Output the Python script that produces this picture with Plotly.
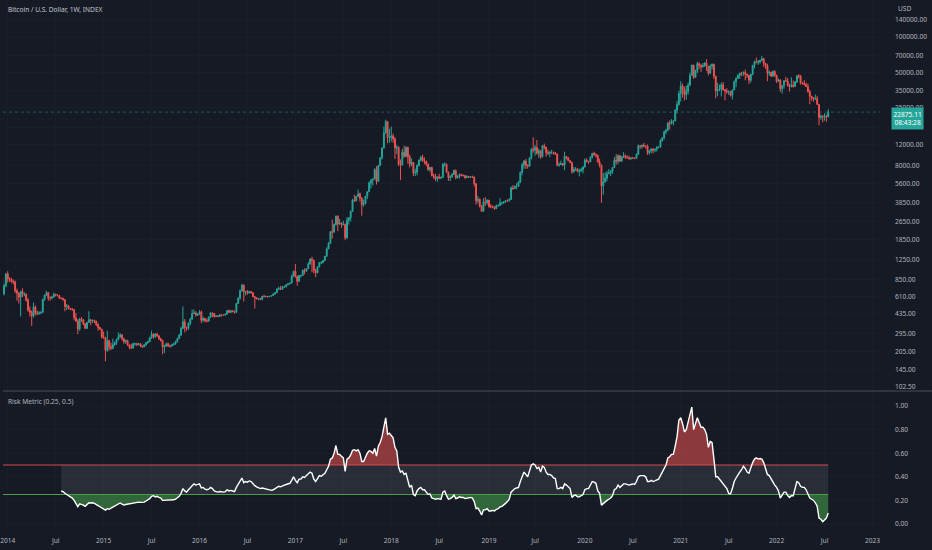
import math
import numpy as np
import pandas as pd
import plotly.graph_objects as go

# weekly BTC/USD bars, weeks starting 2013-12-16 (Monday); open of each week = close of the previous one
first_open = 880
close = [
    640, 750, 950,
    860, 850, 820, 815, 680, 650, 600, 670, 635, 640, 565, 465, 445, 415, 495, 440, 435, 440, 445, 575, 625, 655,
    590, 590, 600, 635, 630, 620, 590, 585, 570, 500, 505, 480, 475, 470, 400, 375, 320, 390, 385, 355, 325, 365,
    385, 375, 380, 375, 350, 330, 320,
    275, 270, 210, 255, 225, 220, 235, 245, 260, 275, 285, 265, 250, 255, 235, 225, 220, 240, 240, 235, 240, 230,
    225, 235, 245, 250, 270, 290, 275, 290, 280, 265, 255, 225, 230, 240, 230, 230, 235, 240, 250, 265, 285, 325,
    370, 330, 325, 360, 390, 435, 440, 420, 430,
    450, 380, 395, 378, 375, 405, 440, 435, 410, 415, 410, 425, 420, 420, 430, 460, 445, 460, 455, 445, 530, 590,
    680, 760, 665, 670, 650, 670, 655, 605, 590, 580, 585, 575, 610, 605, 610, 605, 610, 620, 640, 655, 700, 710,
    700, 730, 735, 765, 780, 790, 900, 1000,
    905, 820, 920, 920, 1020, 1000, 1050, 1150, 1270, 1230, 1020, 970, 1090, 1180, 1180, 1230, 1340, 1550, 1730,
    2180, 2150, 2510, 2950, 2530, 2580, 2500, 2510, 1930, 2730, 2860, 3240, 4050, 4000, 4350, 4580, 4200, 3700,
    3780, 4380, 4770, 5680, 6000, 6140, 7380, 5850, 8000, 9300, 11300, 15200, 19000, 13800, 13900,
    14300, 13500, 11300, 11400, 8200, 8100, 10400, 9600, 11400, 9500, 8200, 8500, 6900, 7000, 8000, 8900, 9400,
    8700, 8700, 8200, 7350, 7700, 6550, 6450, 6150, 6400, 6250, 6350, 8200, 8200, 7000, 6300, 6400, 6700, 7250,
    6300, 6500, 6700, 6600, 6550, 6300, 6450, 6350, 6400, 6350, 5600, 4000, 4100, 3600, 3250, 3900, 3850, 4050,
    3550, 3550, 3550, 3420, 3650, 3650, 3820, 3860, 3920, 4000, 3990, 4100, 5150, 5080, 5300, 5300, 5800, 7000,
    8100, 8750, 8000, 7900, 9300, 11000, 10800, 11400, 10200, 10700, 9500, 11800, 11500, 10300, 10150, 10400,
    10400, 10300, 10000, 8050, 8150, 8300, 8050, 9550, 9350, 8800, 8500, 7100, 7400, 7500, 7100, 7150, 7400, 7750,
    8900, 8700, 8600, 9400, 10150, 9900, 9700, 8550, 8050, 5350, 5800, 6250, 6800, 6900, 7150, 7700, 8900, 8700,
    9700, 8700, 9450, 9700, 9350, 9300, 9150, 9300, 9250, 9200, 9950, 11800, 11650, 11900, 11700, 11700, 10300,
    10650, 11100, 10800, 11050, 11400, 11500, 13100, 13800, 15500, 15950, 18400, 18200, 19100, 19250, 23850,
    26500, 33000,
    38200, 36000, 32300, 34300, 38900, 47200, 57500, 45300, 51000, 59500, 57400, 55800, 57100, 60000, 56200,
    49000, 56600, 58300, 46400, 34700, 35600, 35800, 39100, 35500, 34700, 34200, 34250, 31800, 35400, 41500,
    44400, 47100, 49300, 48800, 49900, 48200, 47300, 42800, 48200, 57400, 61600, 60900, 61300, 63300, 65500,
    59700, 57300, 49400, 50100, 46700, 50800, 47300,
    41900, 43100, 36300, 38500, 42400, 42200, 38400, 37700, 38800, 37800, 41300, 46800, 46400, 40400, 40400,
    39500, 37700, 34100, 31300, 30300, 29400, 29900, 26600, 20600, 21000, 20800, 21200, 20800, 22875.11,
]
high = [
    890, 780, 960,
    1000, 890, 880, 850, 830, 710, 660, 680, 715, 660, 640, 590, 500, 460, 540, 510, 460, 455, 455, 580, 630, 680,
    660, 610, 615, 655, 640, 630, 625, 595, 595, 580, 525, 515, 485, 485, 475, 440, 390, 400, 405, 390, 360, 370,
    455, 390, 385, 385, 360, 360, 335,
    320, 305, 275, 310, 260, 245, 265, 250, 265, 300, 295, 290, 270, 260, 260, 235, 240, 245, 245, 245, 245, 240,
    232, 237, 248, 255, 275, 310, 295, 295, 298, 285, 270, 260, 235, 245, 245, 235, 240, 245, 255, 270, 290, 335,
    500, 390, 335, 365, 400, 470, 470, 455, 435,
    465, 460, 410, 395, 395, 410, 445, 445, 440, 420, 420, 428, 425, 425, 435, 465, 470, 465, 460, 460, 535, 595,
    700, 780, 770, 680, 690, 680, 675, 660, 615, 600, 590, 590, 615, 630, 615, 610, 615, 625, 645, 660, 720, 740,
    750, 750, 750, 770, 785, 800, 935, 1010,
    1150, 910, 930, 930, 1030, 1060, 1060, 1200, 1290, 1330, 1260, 1050, 1100, 1200, 1220, 1250, 1350, 1600, 1770,
    2200, 2760, 2560, 2980, 3000, 2800, 2600, 2700, 2560, 2900, 2900, 3300, 4150, 4500, 4400, 4980, 4700, 4300,
    4100, 4400, 4800, 5850, 6100, 6200, 7600, 7880, 8100, 9400, 11400, 17200, 19700, 19100, 16500,
    17200, 15000, 14000, 12000, 11700, 9000, 11100, 11800, 11700, 11600, 9900, 9200, 8500, 7500, 8200, 9000, 9700,
    9900, 9400, 8800, 8300, 7800, 7800, 6800, 6800, 6450, 6800, 6400, 8400, 8500, 8300, 7100, 6600, 6900, 7400,
    7400, 6600, 6850, 6800, 6700, 6650, 6600, 6500, 6500, 6550, 6450, 5600, 4400, 4200, 3650, 4200, 4300, 4100,
    4050, 3750, 3650, 3550, 3700, 3700, 4200, 3900, 3950, 4050, 4100, 4200, 5300, 5450, 5400, 5650, 5850, 7100,
    8400, 8900, 9100, 8200, 9400, 11300, 13900, 12000, 13200, 11100, 10700, 11900, 12300, 11500, 10900, 10600,
    10900, 10450, 10300, 10100, 8500, 8800, 8400, 10500, 9650, 9400, 8900, 8600, 7800, 7750, 7550, 7500, 7650, 7900,
    9200, 9200, 8700, 9600, 10200, 10500, 10200, 9950, 9150, 8150, 6900, 7000, 7200, 7450, 7300, 7750, 9450, 10000,
    9950, 9850, 9600, 10400, 9950, 9750, 9700, 9350, 9450, 9300, 10150, 12100, 11900, 12100, 12450, 11800, 12100,
    10800, 11200, 11200, 11100, 11700, 11700, 13400, 14000, 15900, 16500, 18800, 19450, 19900, 19400, 24250,
    28400, 34800,
    41950, 40100, 37800, 38500, 40900, 49700, 58300, 58000, 52600, 61800, 60600, 58400, 60100, 61200, 64800,
    57000, 58400, 59600, 59500, 46600, 40800, 39300, 40900, 41300, 36000, 36600, 35100, 34600, 35400, 42600,
    45300, 48200, 49400, 50500, 51000, 52900, 48800, 47400, 48500, 57800, 62900, 67000, 63700, 64200, 69000,
    66300, 59900, 59200, 51900, 50500, 52000, 52100,
    47600, 44400, 43500, 38900, 42500, 45800, 44700, 40000, 45400, 42600, 42200, 47000, 48200, 47500, 41500,
    42900, 40800, 40000, 35500, 31300, 30600, 32300, 31500, 26800, 21900, 21500, 22400, 21800, 24200,
]
low = [
    520, 620, 730,
    800, 810, 790, 770, 650, 560, 530, 410, 600, 610, 550, 450, 410, 340, 400, 420, 420, 425, 430, 445, 560, 615,
    560, 560, 575, 600, 610, 610, 580, 575, 560, 455, 465, 470, 465, 460, 380, 370, 290, 310, 370, 345, 320, 320,
    360, 345, 360, 360, 340, 310, 315,
    265, 265, 170, 205, 210, 212, 215, 230, 235, 260, 270, 255, 240, 240, 230, 215, 218, 220, 230, 230, 235, 225,
    222, 225, 230, 240, 250, 265, 265, 270, 275, 258, 250, 195, 200, 225, 225, 222, 225, 232, 235, 245, 265, 280,
    320, 300, 310, 315, 345, 385, 430, 410, 415,
    425, 360, 370, 365, 365, 370, 400, 405, 400, 405, 405, 410, 410, 415, 418, 428, 440, 440, 445, 435, 440, 525,
    570, 670, 550, 620, 630, 645, 645, 600, 480, 575, 565, 565, 565, 600, 600, 595, 600, 605, 615, 630, 650, 690,
    690, 695, 725, 730, 760, 770, 790, 890,
    880, 750, 810, 880, 915, 940, 995, 1050, 1140, 980, 960, 890, 960, 1080, 1150, 1180, 1230, 1330, 1550, 1700,
    1900, 2150, 2450, 2200, 2500, 2350, 2470, 1840, 1890, 2500, 2660, 3200, 3900, 3950, 4300, 3950, 2980, 3550,
    3720, 4130, 4760, 5100, 5400, 6100, 5500, 5800, 7900, 9000, 11200, 15000, 12400, 12500,
    12800, 12500, 9100, 10000, 7900, 6000, 8000, 9300, 9400, 8300, 7700, 7900, 6500, 6500, 6600, 7800, 8700, 8600,
    8200, 7900, 7250, 7050, 6450, 6150, 5900, 5800, 6100, 6100, 6250, 7800, 6900, 5900, 5900, 6300, 6650, 6100,
    6200, 6200, 6450, 6450, 6150, 6250, 6300, 6300, 6300, 5300, 3700, 3800, 3500, 3200, 3250, 3600, 3700,
    3500, 3450, 3450, 3350, 3400, 3550, 3600, 3700, 3750, 3850, 3900, 3950, 4100, 4950, 5050, 5000, 5250, 5650,
    6600, 7500, 7500, 7500, 7800, 9000, 10300, 9700, 9900, 9300, 9100, 9400, 11000, 9500, 9850, 9400, 10000, 9900,
    9850, 7900, 7800, 8100, 7900, 7300, 9000, 8700, 8350, 6800, 6900, 7200, 7000, 6450, 7100, 6850,
    7700, 8500, 8250, 8600, 9150, 9700, 9350, 8500, 7700, 3850, 4500, 5700, 5850, 6750, 6500, 6800, 7650, 8150,
    8200, 8650, 8650, 9300, 9100, 9200, 8950, 8950, 9150, 9050, 9150, 9900, 11100, 11150, 11500, 11150, 9850, 9900,
    10200, 10150, 10400, 10550, 11200, 11400, 12800, 13300, 14800, 15800, 16200, 18000, 17600, 19000, 22300, 26000,
    28200, 30400, 28800, 29200, 32300, 38000, 47000, 44000, 44900, 49300, 53300, 50300, 54800, 55500, 51300,
    47100, 48800, 53000, 43900, 30000, 31200, 34500, 31100, 34800, 28800, 32700, 32100, 31100, 29300, 35200,
    37300, 43800, 43950, 46400, 46600, 42800, 44700, 39600, 40800, 47100, 54100, 59700, 58000, 59500, 62300,
    55600, 53600, 42000, 46700, 45500, 45600, 45700,
    40600, 41300, 34000, 32900, 36200, 41700, 37900, 34300, 37200, 37100, 37600, 40500, 44200, 39300, 39200,
    38600, 37600, 33700, 26700, 28700, 28000, 29300, 26600, 17600, 19700, 18700, 19300, 18900, 20700,
]

# risk metric, weekly, from the week of 2014-07-28 to the last bar
risk = [
    0.28, 0.275, 0.26, 0.25, 0.245, 0.235, 0.22, 0.20, 0.17, 0.147, 0.17, 0.166, 0.16, 0.15, 0.17, 0.18, 0.178,
    0.18, 0.175, 0.165, 0.155, 0.15,
    0.138, 0.13, 0.118, 0.13, 0.125, 0.135, 0.145, 0.15, 0.16, 0.17, 0.178, 0.168, 0.16, 0.165, 0.168, 0.17,
    0.178, 0.182, 0.185, 0.182, 0.185, 0.183, 0.186, 0.185, 0.195, 0.205, 0.215, 0.235, 0.24, 0.23, 0.235, 0.225,
    0.22, 0.20, 0.20, 0.205, 0.20, 0.20, 0.20, 0.205, 0.21, 0.22, 0.235, 0.26, 0.30, 0.28, 0.27, 0.29, 0.31, 0.33,
    0.34, 0.33, 0.335,
    0.34, 0.305, 0.31, 0.295, 0.29, 0.295, 0.31, 0.30, 0.28, 0.275, 0.27, 0.275, 0.27, 0.27, 0.275, 0.29, 0.28,
    0.285, 0.28, 0.275, 0.31, 0.34, 0.37, 0.39, 0.35, 0.36, 0.355, 0.365, 0.36, 0.34, 0.325, 0.315, 0.31, 0.30,
    0.305, 0.30, 0.295, 0.29, 0.285, 0.285, 0.29, 0.30, 0.31, 0.32, 0.315, 0.325, 0.33, 0.335, 0.34, 0.345, 0.37,
    0.40,
    0.37, 0.35, 0.38, 0.38, 0.40, 0.395, 0.41, 0.43, 0.44, 0.43, 0.38, 0.36, 0.39, 0.41, 0.405, 0.415, 0.43, 0.46,
    0.49, 0.55, 0.56, 0.60, 0.665, 0.59, 0.59, 0.575, 0.56, 0.445, 0.55, 0.56, 0.585, 0.625, 0.63, 0.62, 0.63,
    0.60, 0.53, 0.53, 0.57, 0.60, 0.62, 0.615, 0.60, 0.64, 0.575, 0.66, 0.69, 0.74, 0.82, 0.90, 0.76, 0.77,
    0.75, 0.73, 0.65, 0.62, 0.48, 0.44, 0.45, 0.42, 0.43, 0.38, 0.31, 0.33, 0.25, 0.24, 0.28, 0.30, 0.31, 0.29,
    0.29, 0.27, 0.25, 0.255, 0.22, 0.215, 0.21, 0.215, 0.21, 0.21, 0.27, 0.28, 0.24, 0.21, 0.215, 0.225, 0.245,
    0.215, 0.22, 0.23, 0.225, 0.225, 0.215, 0.22, 0.22, 0.225, 0.22, 0.19, 0.13, 0.135, 0.11, 0.076, 0.12, 0.12,
    0.13,
    0.11, 0.11, 0.115, 0.11, 0.125, 0.13, 0.145, 0.15, 0.16, 0.175, 0.19, 0.21, 0.27, 0.29, 0.30, 0.305, 0.31,
    0.36, 0.40, 0.44, 0.42, 0.40, 0.45, 0.50, 0.51, 0.50, 0.47, 0.48, 0.44, 0.49, 0.48, 0.44, 0.42, 0.42, 0.41,
    0.39, 0.385, 0.30, 0.30, 0.31, 0.30, 0.34, 0.33, 0.31, 0.30, 0.225, 0.24, 0.245, 0.23, 0.23, 0.24, 0.25,
    0.29, 0.30, 0.30, 0.33, 0.36, 0.355, 0.345, 0.28, 0.26, 0.16, 0.175, 0.19, 0.20, 0.21, 0.22, 0.24, 0.29, 0.30,
    0.33, 0.31, 0.33, 0.34, 0.34, 0.335, 0.33, 0.335, 0.34, 0.335, 0.36, 0.40, 0.41, 0.41, 0.41, 0.40, 0.36, 0.36,
    0.37, 0.36, 0.365, 0.37, 0.38, 0.41, 0.44, 0.47, 0.50, 0.56, 0.57, 0.59, 0.59, 0.66, 0.74, 0.88,
    0.90, 0.85, 0.78, 0.80, 0.86, 0.93, 0.99, 0.80, 0.86, 0.90, 0.86, 0.82, 0.82, 0.80, 0.76, 0.65, 0.70, 0.69,
    0.55, 0.40, 0.40, 0.38, 0.37, 0.34, 0.32, 0.30, 0.26, 0.255, 0.30, 0.36, 0.39, 0.42, 0.44, 0.46, 0.49, 0.47,
    0.44, 0.43, 0.48, 0.52, 0.55, 0.56, 0.55, 0.555, 0.55, 0.52, 0.47, 0.42, 0.41, 0.38, 0.36, 0.33,
    0.31, 0.28, 0.22, 0.24, 0.27, 0.27, 0.24, 0.225, 0.24, 0.24, 0.29, 0.36, 0.35, 0.32, 0.31, 0.31, 0.29, 0.25,
    0.22, 0.21, 0.20, 0.18, 0.15, 0.05, 0.04, 0.02, 0.04, 0.05, 0.093,
]

price_ticks = [140000, 100000, 70000, 50000, 35000, 25000, 17000, 12000, 8000, 5600, 3850, 2650, 1850,
               1250, 850, 610, 435, 295, 205, 145, 102.5]
risk_ticks = [0.0, 0.2, 0.4, 0.6, 0.8, 1.0]
time_ticks = ["2014-01-06", "2014-07-07", "2015-01-05", "2015-07-06", "2016-01-04", "2016-07-04",
              "2017-01-02", "2017-07-03", "2018-01-01", "2018-07-02", "2019-01-07", "2019-07-01",
              "2020-01-06", "2020-07-06", "2021-01-04", "2021-07-05", "2022-01-03", "2022-07-04", "2023-01-02"]
time_labels = ["2014", "Jul", "2015", "Jul", "2016", "Jul", "2017", "Jul", "2018", "Jul", "2019", "Jul",
               "2020", "Jul", "2021", "Jul", "2022", "Jul", "2023"]
lower_level, upper_level = 0.25, 0.5
countdown = "08:43:28"

dates = pd.date_range("2013-12-16", periods=len(close), freq="W-MON")
opens = [first_open] + close[:-1]
risk_dates = dates[len(dates) - len(risk):]
risk_arr = np.array(risk)

BG = "#161a25"
UP = "#26a69a"
DOWN = "#ef5350"
TXT = "#b2b5be"
FONT = "Noto Sans"
GRID = "#1a1e29"

fig = go.Figure()

fig.add_trace(go.Candlestick(
    x=dates, open=opens, high=high, low=low, close=close,
    xaxis="x2", yaxis="y2",
    increasing=dict(line=dict(color=UP, width=1), fillcolor=UP),
    decreasing=dict(line=dict(color=DOWN, width=1), fillcolor=DOWN),
    whiskerwidth=0, hoverinfo="skip", showlegend=False,
))

# risk pane: grey band between the two levels
n_r = len(risk)
fig.add_trace(go.Scatter(x=risk_dates, y=[lower_level] * n_r, mode="lines",
                         line=dict(width=0), hoverinfo="skip", showlegend=False))
fig.add_trace(go.Scatter(x=risk_dates, y=[upper_level] * n_r, mode="lines", fill="tonexty",
                         fillcolor="rgba(120,123,134,0.2)", line=dict(width=0),
                         hoverinfo="skip", showlegend=False))
# green fill under the lower level
fig.add_trace(go.Scatter(x=risk_dates, y=[lower_level] * n_r, mode="lines",
                         line=dict(width=0), hoverinfo="skip", showlegend=False))
fig.add_trace(go.Scatter(x=risk_dates, y=np.minimum(risk_arr, lower_level), mode="lines", fill="tonexty",
                         fillcolor="rgba(76,175,80,0.5)", line=dict(width=0),
                         hoverinfo="skip", showlegend=False))
# red fill above the upper level
fig.add_trace(go.Scatter(x=risk_dates, y=[upper_level] * n_r, mode="lines",
                         line=dict(width=0), hoverinfo="skip", showlegend=False))
fig.add_trace(go.Scatter(x=risk_dates, y=np.maximum(risk_arr, upper_level), mode="lines", fill="tonexty",
                         fillcolor="rgba(239,83,80,0.55)", line=dict(width=0),
                         hoverinfo="skip", showlegend=False))
# level lines
fig.add_trace(go.Scatter(x=dates, y=[upper_level] * len(dates), mode="lines",
                         line=dict(color="#e0474c", width=1), hoverinfo="skip", showlegend=False))
fig.add_trace(go.Scatter(x=dates, y=[lower_level] * len(dates), mode="lines",
                         line=dict(color="#43a047", width=1), hoverinfo="skip", showlegend=False))
fig.add_trace(go.Scatter(x=risk_dates, y=risk, mode="lines",
                         line=dict(color="#ffffff", width=1.4), hoverinfo="skip", showlegend=False))

axis_font = dict(family=FONT, size=6.6, color=TXT)
x_range = ["2013-12-19", "2023-01-30 12:00"]

fig.update_layout(
    width=932, height=550,
    margin=dict(l=0, r=52, t=0, b=20),
    paper_bgcolor=BG, plot_bgcolor=BG,
    font=dict(family=FONT, color=TXT, size=6.6),
    showlegend=False,
    hovermode=False,
    xaxis=dict(domain=[0, 1], anchor="y", range=x_range, tickvals=time_ticks, ticktext=time_labels,
               tickfont=axis_font, showgrid=True, gridcolor=GRID, zeroline=False,
               showline=False, ticks="", ticklabelstandoff=5, ticklabeloverflow="allow"),
    xaxis2=dict(domain=[0, 1], anchor="y2", matches="x", range=x_range, tickvals=time_ticks,
                showticklabels=False, showgrid=True, gridcolor=GRID, zeroline=False,
                rangeslider=dict(visible=False), ticks=""),
    yaxis=dict(domain=[0, 138 / 530], anchor="x", side="right", range=[-0.0508, 1.1186],
               tickvals=risk_ticks, ticktext=[f"{v:.2f}" for v in risk_ticks], tickfont=axis_font,
               showgrid=True, gridcolor=GRID, zeroline=False, ticks="", ticklabelstandoff=14),
    yaxis2=dict(domain=[140 / 530, 1], anchor="x2", side="right", type="log", range=[1.985, 5.317],
                tickvals=price_ticks, ticktext=[f"{v:.2f}" for v in price_ticks], tickfont=axis_font,
                showgrid=True, gridcolor=GRID, zeroline=False, ticks="", ticklabelstandoff=14),
)

# pane separator
fig.add_shape(type="line", xref="paper", yref="paper", x0=0, x1=932 / 880, y0=139 / 530, y1=139 / 530,
              line=dict(color="#4a4e5a", width=1))
# last price line
last = close[-1]
fig.add_shape(type="line", xref="paper", yref="y2", x0=0, x1=1, y0=last, y1=last,
              line=dict(color="rgba(38,166,154,0.5)", width=1, dash="dot"))

fig.add_annotation(xref="paper", yref="y2", x=891 / 880, y=math.log10(last), xanchor="left", yanchor="top",
                   yshift=5, text=f"{last:.2f}<br>{countdown}", showarrow=False, align="center",
                   bgcolor=UP, borderpad=1.5, font=dict(family=FONT, size=6.6, color="#ffffff"))
fig.add_annotation(xref="paper", yref="paper", x=896 / 880, y=1, xanchor="left", yanchor="top", yshift=-2,
                   text="USD", showarrow=False, font=axis_font)
fig.add_annotation(xref="paper", yref="paper", x=3 / 880, y=1, xanchor="left", yanchor="top", yshift=-3,
                   text="Bitcoin / U.S. Dollar, 1W, INDEX", showarrow=False,
                   font=dict(family=FONT, size=6.6, color="#c3c6ce"))
fig.add_annotation(xref="paper", yref="paper", x=3 / 880, y=138 / 530, xanchor="left", yanchor="top",
                   yshift=-3, text="Risk Metric (0.25, 0.5)", showarrow=False,
                   font=dict(family=FONT, size=6.6, color=TXT))

fig.write_html("out.html", config={"displayModeBar": False},
               post_script="document.body.style.margin = '0';")
